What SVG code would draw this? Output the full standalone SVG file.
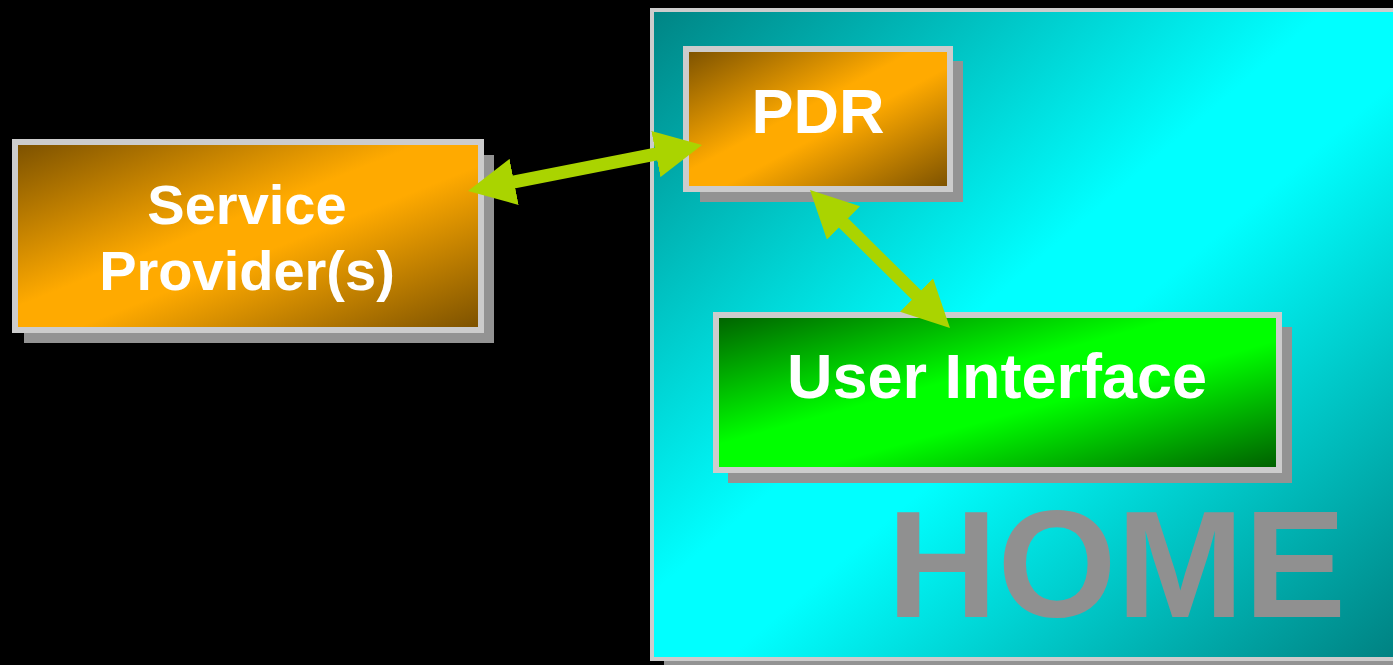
<svg xmlns="http://www.w3.org/2000/svg" width="1393" height="665" viewBox="0 0 1393 665">
  <defs>
    <linearGradient id="gOrange" x1="0" y1="0" x2="1" y2="1">
      <stop offset="0" stop-color="#7a5000"/>
      <stop offset="0.44" stop-color="#ffaa00"/>
      <stop offset="0.56" stop-color="#ffaa00"/>
      <stop offset="1" stop-color="#7a5000"/>
    </linearGradient>
    <linearGradient id="gCyan" x1="0" y1="0" x2="1" y2="1">
      <stop offset="0" stop-color="#008484"/>
      <stop offset="0.45" stop-color="#00ffff"/>
      <stop offset="0.55" stop-color="#00ffff"/>
      <stop offset="1" stop-color="#008080"/>
    </linearGradient>
    <linearGradient id="gGreen" x1="0" y1="0" x2="1" y2="1">
      <stop offset="0" stop-color="#006000"/>
      <stop offset="0.42" stop-color="#00ff00"/>
      <stop offset="0.58" stop-color="#00ff00"/>
      <stop offset="1" stop-color="#005c00"/>
    </linearGradient>
    <marker id="head" viewBox="0 0 47 47" markerWidth="47" markerHeight="47" markerUnits="userSpaceOnUse" refX="32" refY="23.5" orient="auto-start-reverse">
      <path d="M0,0 L47,23.5 L0,47 z" fill="#aad400"/>
    </marker>
  </defs>
  <style>
    .shadow { fill: #939393; }
    .frame { stroke: #cccccc; stroke-width: 6; }
    .label { font-family: "Liberation Sans", Arial, sans-serif; font-weight: bold; fill: #ffffff; text-anchor: middle; }
    .link { stroke: #aad400; stroke-width: 13; fill: none; marker-start: url(#head); marker-end: url(#head); }
  </style>
  <rect x="0" y="0" width="1393" height="665" fill="#000000"/>

  <g id="home">
    <rect class="shadow" x="664" y="22" width="740" height="650"/>
    <rect x="652" y="10" width="750" height="649" fill="url(#gCyan)" stroke="#cccccc" stroke-width="4"/>
    <text x="1346" y="617" text-anchor="end" font-family="'Liberation Sans', Arial, sans-serif" font-weight="bold" font-size="153" fill="#909090">HOME</text>
  </g>

  <g id="pdr">
    <rect class="shadow" x="700" y="61" width="263" height="141"/>
    <rect class="frame" x="686" y="49" width="264" height="140" fill="url(#gOrange)"/>
    <text class="label" x="818" y="133" font-size="63">PDR</text>
  </g>

  <g id="user-interface">
    <rect class="shadow" x="728" y="327" width="564" height="156"/>
    <rect class="frame" x="716" y="315" width="563" height="155" fill="url(#gGreen)"/>
    <text class="label" x="997" y="398" font-size="63">User Interface</text>
  </g>

  <g id="service-provider">
    <rect class="shadow" x="24" y="155" width="470" height="188"/>
    <rect class="frame" x="15" y="142" width="466" height="188" fill="url(#gOrange)"/>
    <text class="label" x="247" y="224" font-size="56">Service</text>
    <text class="label" x="247" y="290" font-size="56">Provider(s)</text>
  </g>

  <g id="connectors">
    <line class="link" x1="482.7" y1="188.1" x2="687.3" y2="147.9"/>
    <line class="link" x1="820.7" y1="200.5" x2="939.3" y2="317.5"/>
  </g>
</svg>
